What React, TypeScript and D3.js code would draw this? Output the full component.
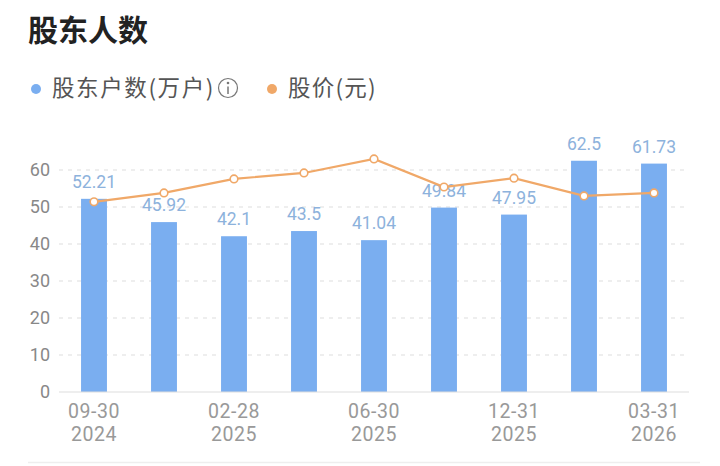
import * as d3 from "d3";

// ── Data ──────────────────────────────────────────────────────────────────────

const periods = [
  "2024-09-30",
  "2024-12-31",
  "2025-02-28",
  "2025-03-31",
  "2025-06-30",
  "2025-09-30",
  "2025-12-31",
  "2026-02-28",
  "2026-03-31",
];
const holders = [52.21, 45.92, 42.1, 43.5, 41.04, 49.84, 47.95, 62.5, 61.73];
const prices = [51.4, 53.8, 57.6, 59.2, 63.0, 55.4, 57.8, 53.0, 53.8];
const yTicks = [0, 10, 20, 30, 40, 50, 60];
const labelled = [0, 2, 4, 6, 8];

// ── Layout ────────────────────────────────────────────────────────────────────

const W = 720;
const H = 466;
const plot = { left: 59, right: 689, top: 133, bottom: 392 };
const BAR = "#7aaef0";
const LINE = "#f0a868";
const FONT = "Roboto, 'Noto Sans CJK SC', sans-serif";
const CJK = "'Noto Sans CJK SC', sans-serif";

export default function App() {
  const x = d3
    .scaleBand<string>()
    .domain(periods)
    .range([plot.left, plot.right])
    .paddingInner(0.63)
    .paddingOuter(0.315);
  const y = d3.scaleLinear().domain([0, 70]).range([plot.bottom, plot.top]);
  const cx = (p: string) => (x(p) ?? 0) + x.bandwidth() / 2;

  const line = d3
    .line<number>()
    .x((_d, i) => cx(periods[i]))
    .y((d) => y(d));

  return (
    <svg
      width={W}
      height={H}
      style={{ position: "absolute", left: 0, top: 0, background: "#fff" }}
      fontFamily={FONT}
    >
      {/* Title */}
      <text x={28} y={41} fontSize={30} fontWeight={700} fill="#222" fontFamily={CJK}>
        股东人数
      </text>

      {/* Legend */}
      <circle cx={36} cy={89} r={5} fill={BAR} />
      <text x={52} y={96} fontSize={22.5} fill="#555" fontFamily={CJK} letterSpacing={1.6}>
        股东户数(万户)
      </text>
      <circle cx={228} cy={88} r={9.5} fill="none" stroke="#777" strokeWidth={1.2} />
      <circle cx={228} cy={83} r={1.3} fill="#777" />
      <line x1={228} x2={228} y1={86.5} y2={94} stroke="#777" strokeWidth={1.5} />
      <circle cx={272} cy={89} r={5} fill={LINE} />
      <text x={288} y={96} fontSize={22.5} fill="#555" fontFamily={CJK} letterSpacing={1.2}>
        股价(元)
      </text>

      {/* Grid + y labels */}
      {yTicks.map((t) => (
        <g key={t}>
          {t > 0 && (
            <line
              x1={plot.left}
              x2={plot.right - 4}
              y1={y(t)}
              y2={y(t)}
              stroke="#ddd"
              strokeDasharray="4 5"
            />
          )}
          <text
            x={50}
            y={y(t)}
            dy="0.36em"
            textAnchor="end"
            fontSize={18}
            fill="#888"
          >
            {t}
          </text>
        </g>
      ))}

      {/* Bars */}
      {holders.map((v, i) => (
        <rect
          key={periods[i]}
          x={x(periods[i])}
          y={y(v)}
          width={x.bandwidth()}
          height={y(0) - y(v)}
          fill={BAR}
        />
      ))}

      {/* Zero axis */}
      <line
        x1={plot.left}
        x2={plot.right}
        y1={y(0)}
        y2={y(0)}
        stroke="#ddd"
        strokeWidth={1.2}
      />

      {/* Bar labels */}
      {holders.map((v, i) => (
        <text
          key={periods[i]}
          x={cx(periods[i])}
          y={y(v) - 11}
          textAnchor="middle"
          fontSize={17.5}
          fill="#8db2dc"
        >
          {v}
        </text>
      ))}

      {/* Price line */}
      <path d={line(prices) ?? ""} fill="none" stroke={LINE} strokeWidth={2.2} />
      {prices.map((p, i) => (
        <circle
          key={periods[i]}
          cx={cx(periods[i])}
          cy={y(p)}
          r={3.8}
          fill="#fff"
          stroke={LINE}
          strokeWidth={1.6}
        />
      ))}

      {/* X labels */}
      {labelled.map((i) => {
        const [yr, m, d] = periods[i].split("-");
        return (
          <g key={i} fontSize={19.5} fill="#999" textAnchor="middle">
            <text x={cx(periods[i])} y={418} letterSpacing={0.6}>
              {`${m}-${d}`}
            </text>
            <text x={cx(periods[i])} y={441} letterSpacing={0.6}>
              {yr}
            </text>
          </g>
        );
      })}

      {/* Bottom separator */}
      <line x1={28} x2={700} y1={462.5} y2={462.5} stroke="#eee" strokeWidth={1.5} />
    </svg>
  );
}
